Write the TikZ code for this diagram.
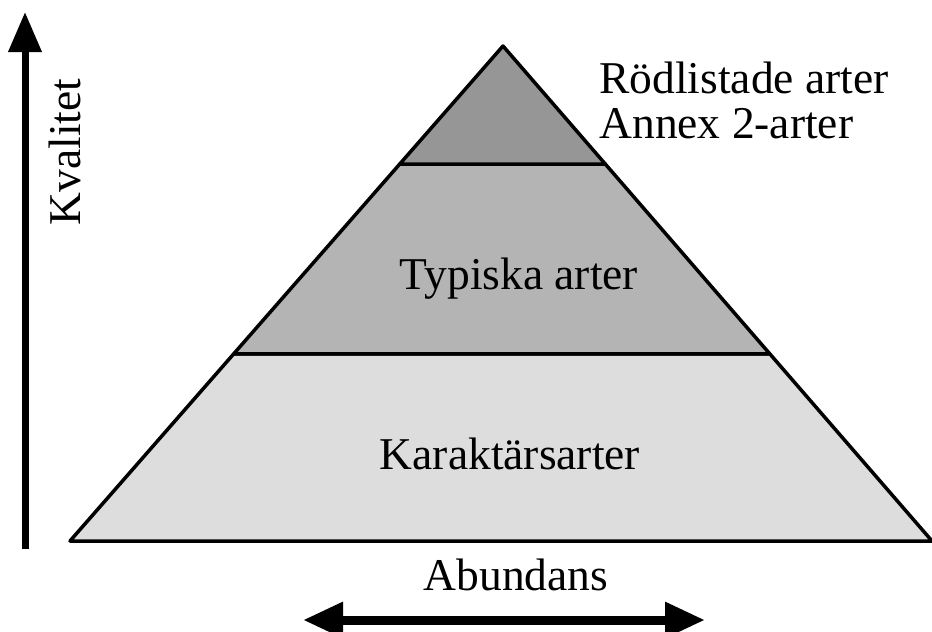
\documentclass[tikz,border=0pt]{standalone}
\usepackage{fontspec}
\setmainfont{Liberation Serif}
\usetikzlibrary{positioning, calc, arrows.meta}
\definecolor{mytopgray}{RGB}{150, 150, 150}
\definecolor{mymidgray}{RGB}{180, 180, 180}
\definecolor{mylowgray}{RGB}{221, 221, 221}

\begin{document}
\begin{tikzpicture}[x = 1pt, y = -1pt, thick,
    txt/.style={font = \fontsize{45.5}{52}\selectfont, inner sep = 0pt},
    band/.style={draw, line width = 3.5pt, line join = round},
    axis/.style={-{Triangle[length = 40pt, width = 32pt]}}]
  \useasboundingbox (0,0) rectangle (932,632);

  % corners
  \coordinate (apex) at (503,46);
  \coordinate (base-left) at (70,541);
  \coordinate (base-right) at (932,541);
  \coordinate (top-left) at ($(apex)!0.2384!(base-left)$);
  \coordinate (top-right) at ($(apex)!0.2384!(base-right)$);
  \coordinate (mid-left) at ($(apex)!0.622!(base-left)$);
  \coordinate (mid-right) at ($(apex)!0.622!(base-right)$);

  % bands
  \draw [band, fill = mylowgray] (mid-left) -- (mid-right) -- (base-right) -- (base-left) -- cycle;
  \draw [band, fill = mymidgray] (top-left) -- (top-right) -- (mid-right) -- (mid-left) -- cycle;
  \draw [band, fill = mytopgray] (apex) -- (top-right) -- (top-left) -- cycle;

  % nodes
  \node [txt, anchor = base west] (redlist) at (599,93) {Rödlistade arter};
  \node [txt, anchor = base west] (annex) at (599,138) {Annex 2-arter};
  \node [txt, anchor = base] (typical) at (519,289) {Typiska arter};
  \node [txt, anchor = base] (character) at (510,469) {Karaktärsarter};
  \node [txt, anchor = base] (abundance) at (516,590) {Abundans};
  \node [txt, anchor = base, rotate = 90] (quality) at (80,152) {Kvalitet};

  % axes
  \coordinate (q-low) at (25,549);
  \coordinate (q-high) at (25,12);
  \coordinate (a-left) at (303,620);
  \coordinate (a-right) at (705,620);
  \draw [axis, line width = 7pt] (q-low) -- (q-high);
  \draw [{Triangle[length = 40pt, width = 34pt]}-{Triangle[length = 40pt, width = 34pt]}, line width = 9pt] (a-left) -- (a-right);
\end{tikzpicture}
\end{document}
